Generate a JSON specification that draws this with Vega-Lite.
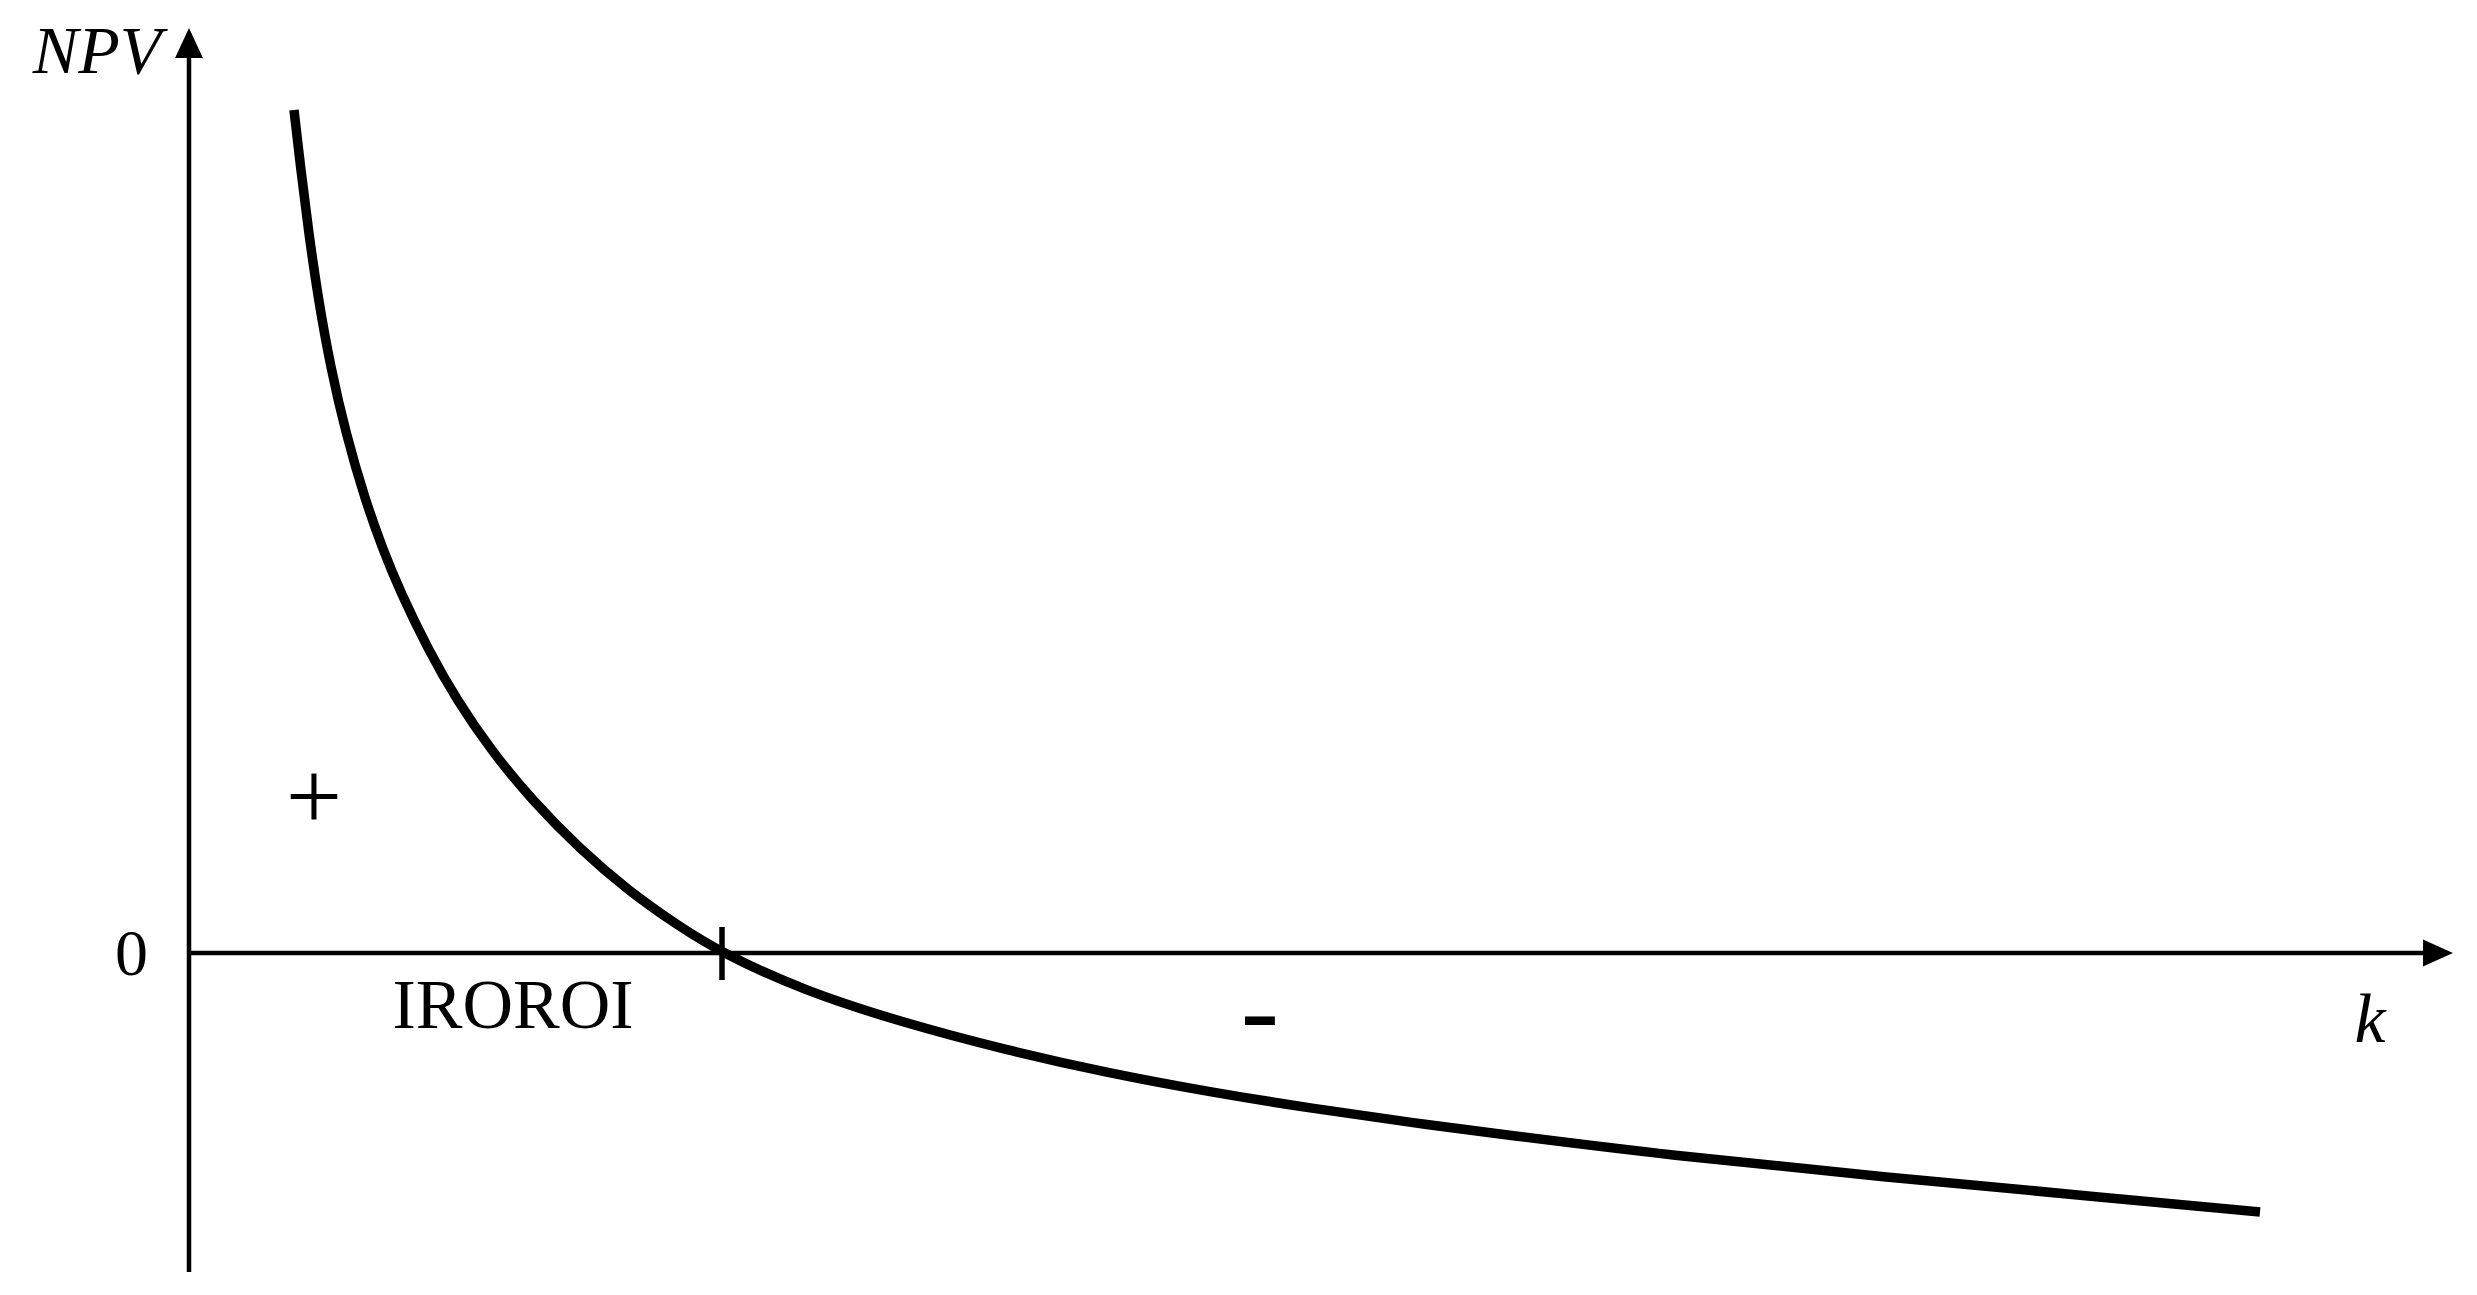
{
  "$schema": "https://vega.github.io/schema/vega-lite/v6.json",
  "width": 2477,
  "height": 1295,
  "autosize": "none",
  "padding": 0,
  "background": "white",
  "config": {"view": {"stroke": null}},
  "datasets": {
    "curve": [
      {"k": 1.970, "npv": 84.3}, {"k": 2.092, "npv": 78.6}, {"k": 2.246, "npv": 72.0},
      {"k": 2.428, "npv": 65.3}, {"k": 2.655, "npv": 58.6}, {"k": 2.940, "npv": 52.0},
      {"k": 3.304, "npv": 45.3}, {"k": 3.642, "npv": 40.3}, {"k": 3.949, "npv": 36.3},
      {"k": 4.490, "npv": 30.3}, {"k": 5.024, "npv": 25.3}, {"k": 5.662, "npv": 20.3},
      {"k": 6.432, "npv": 15.3}, {"k": 7.351, "npv": 10.3}, {"k": 8.229, "npv": 6.3},
      {"k": 9.156, "npv": 2.8},
      {"k": 10.0, "npv": 0.0}, {"k": 11.501, "npv": -3.7},
      {"k": 13.415, "npv": -7.0}, {"k": 15.328, "npv": -9.7}, {"k": 17.242, "npv": -12.0},
      {"k": 19.156, "npv": -13.9}, {"k": 21.069, "npv": -15.55}, {"k": 22.983, "npv": -17.0},
      {"k": 24.597, "npv": -18.1}, {"k": 27.730, "npv": -20.2}, {"k": 31.801, "npv": -22.4},
      {"k": 35.854, "npv": -24.4}, {"k": 38.856, "npv": -25.9}
    ],
    "segments": [
      {"name": "y-axis", "k": 0, "npv": -31.9, "k2": 0, "npv2": 90.0, "w": 4.5},
      {"name": "x-axis", "k": 0, "npv": 0, "k2": 42.1, "npv2": 0, "w": 4.5},
      {"name": "irr-tick", "k": 10.0, "npv": 2.6, "k2": 10.0, "npv2": -2.7, "w": 5.5}
    ],
    "italicLabels": [
      {"label": "NPV", "k": -1.726, "npv": 88.0, "size": 68},
      {"label": "k", "k": 40.92, "npv": -8.9, "size": 70}
    ],
    "labels": [
      {"label": "0", "k": -1.079, "npv": -2.2, "size": 66},
      {"label": "IROROI", "k": 6.079, "npv": -7.5, "size": 70},
      {"label": "+", "k": 2.345, "npv": 12.3, "size": 100},
      {"label": "-", "k": 20.094, "npv": -9.5, "size": 115}
    ]
  },
  "encoding": {
    "x": {"field": "k", "type": "quantitative", "axis": null, "scale": {"domain": [-3.546, 42.927], "nice": false, "zero": false}},
    "y": {"field": "npv", "type": "quantitative", "axis": null, "scale": {"domain": [-34.2, 95.3], "nice": false, "zero": false}}
  },
  "layer": [
    {
      "data": {"name": "segments"},
      "mark": {"type": "rule", "color": "black"},
      "encoding": {
        "x2": {"field": "k2"},
        "y2": {"field": "npv2"},
        "strokeWidth": {"field": "w", "type": "quantitative", "scale": null}
      }
    },
    {
      "data": {"values": [{"k": 0, "npv": 91.0}]},
      "mark": {"type": "point", "shape": "M0,-1L-0.93,1L0.93,1Z", "size": 900, "filled": true, "color": "black", "opacity": 1}
    },
    {
      "data": {"values": [{"k": 42.195, "npv": 0}]},
      "mark": {"type": "point", "shape": "M1,0L-1,-0.9L-1,0.9Z", "size": 900, "filled": true, "color": "black", "opacity": 1}
    },
    {
      "data": {"name": "curve"},
      "mark": {"type": "line", "color": "black", "strokeWidth": 9.5, "interpolate": "basis", "strokeCap": "butt"}
    },
    {
      "data": {"name": "italicLabels"},
      "mark": {"type": "text", "font": "Liberation Serif", "fontStyle": "italic", "color": "black", "align": "center", "baseline": "alphabetic"},
      "encoding": {
        "text": {"field": "label"},
        "size": {"field": "size", "type": "quantitative", "scale": null}
      }
    },
    {
      "data": {"name": "labels"},
      "mark": {"type": "text", "font": "Liberation Serif", "color": "black", "align": "center", "baseline": "alphabetic"},
      "encoding": {
        "text": {"field": "label"},
        "size": {"field": "size", "type": "quantitative", "scale": null}
      }
    }
  ]
}
